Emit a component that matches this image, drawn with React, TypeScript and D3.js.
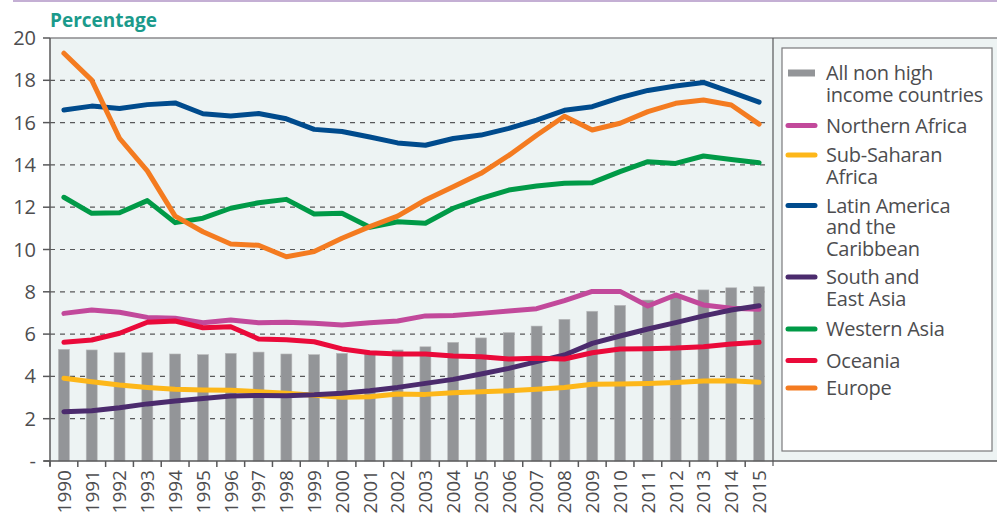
import React, { useEffect, useRef } from 'react';
import * as d3 from 'd3';

const years = [
  '1990', '1991', '1992', '1993', '1994', '1995', '1996', '1997', '1998', '1999',
  '2000', '2001', '2002', '2003', '2004', '2005', '2006', '2007', '2008', '2009',
  '2010', '2011', '2012', '2013', '2014', '2015',
];

// bars: all non high income countries
const allNonHigh = [
  5.28, 5.25, 5.12, 5.12, 5.06, 5.03, 5.09, 5.15, 5.06, 5.03,
  5.09, 5.12, 5.25, 5.4, 5.61, 5.82, 6.07, 6.38, 6.7, 7.08,
  7.36, 7.61, 7.85, 8.09, 8.19, 8.24,
];

const northernAfrica = [
  6.98, 7.14, 7.03, 6.79, 6.75, 6.54, 6.67, 6.54, 6.56, 6.51,
  6.43, 6.54, 6.62, 6.86, 6.88, 6.98, 7.09, 7.2, 7.58, 8.02,
  8.02, 7.33, 7.85, 7.38, 7.22, 7.17,
];

const subSaharan = [
  3.91, 3.75, 3.59, 3.48, 3.39, 3.36, 3.35, 3.28, 3.2, 3.11,
  3.01, 3.04, 3.17, 3.15, 3.23, 3.28, 3.32, 3.39, 3.48, 3.63,
  3.64, 3.67, 3.71, 3.78, 3.8, 3.72,
];

const latinAmerica = [
  16.6, 16.78, 16.67, 16.85, 16.93, 16.42, 16.31, 16.43, 16.18, 15.68,
  15.58, 15.32, 15.04, 14.93, 15.25, 15.41, 15.73, 16.12, 16.58, 16.75,
  17.18, 17.52, 17.73, 17.9, 17.44, 16.97,
];

const southEastAsia = [
  2.33, 2.38, 2.52, 2.7, 2.84, 2.96, 3.07, 3.1, 3.09, 3.13,
  3.2, 3.32, 3.48, 3.67, 3.86, 4.11, 4.38, 4.7, 5.01, 5.56,
  5.91, 6.24, 6.54, 6.86, 7.14, 7.34,
];

const westernAsia = [
  12.47, 11.71, 11.74, 12.31, 11.27, 11.48, 11.95, 12.21, 12.37, 11.68,
  11.71, 11.05, 11.31, 11.24, 11.95, 12.42, 12.81, 13.0, 13.13, 13.16,
  13.68, 14.15, 14.07, 14.42, 14.26, 14.1,
];

const oceania = [
  5.61, 5.72, 6.04, 6.56, 6.62, 6.3, 6.35, 5.77, 5.73, 5.64,
  5.3, 5.12, 5.06, 5.06, 4.96, 4.93, 4.82, 4.86, 4.82, 5.12,
  5.3, 5.31, 5.34, 5.4, 5.53, 5.61,
];

const europe = [
  19.28, 18.01, 15.26, 13.72, 11.58, 10.84, 10.26, 10.2, 9.66, 9.9,
  10.53, 11.08, 11.58, 12.34, 12.97, 13.6, 14.45, 15.4, 16.3, 15.65,
  15.97, 16.52, 16.91, 17.07, 16.83, 15.93,
];

const yTicks = [0, 2, 4, 6, 8, 10, 12, 14, 16, 18, 20];

const lineSeries = [
  { name: ['Northern Africa'], values: northernAfrica, color: '#c2499b' },
  { name: ['Sub-Saharan', 'Africa'], values: subSaharan, color: '#fdb71a' },
  { name: ['Latin America', 'and the', 'Caribbean'], values: latinAmerica, color: '#004b8d' },
  { name: ['South and', 'East Asia'], values: southEastAsia, color: '#4b2b6d' },
  { name: ['Western Asia'], values: westernAsia, color: '#009a47' },
  { name: ['Oceania'], values: oceania, color: '#ea0a3a' },
  { name: ['Europe'], values: europe, color: '#f47b20' },
];

const W = 997;
const H = 515;
const FONT = '"Open Sans", "Noto Sans", sans-serif';
const TEXT = '#4d4d4f';

const App = () => {
  const ref = useRef<SVGSVGElement | null>(null);

  useEffect(() => {
    if (!ref.current) return;
    const svg = d3.select(ref.current);
    svg.selectAll('*').remove();

    const left = 50;
    const right = 773;
    const top = 38;
    const bottom = 461;

    const x = d3.scaleBand().domain(years).range([left, right]);
    const y = d3.scaleLinear().domain([0, 20]).range([bottom, top]);

    // top purple rule
    svg.append('line')
      .attr('x1', 13).attr('x2', W).attr('y1', 1).attr('y2', 1)
      .attr('stroke', '#c4afd4').attr('stroke-width', 2);

    svg.append('text')
      .attr('x', 50).attr('y', 27)
      .attr('fill', '#1b9a8b')
      .attr('font-size', 19).attr('font-weight', 700)
      .attr('font-family', FONT)
      .text('Percentage');

    // background panel
    svg.append('rect')
      .attr('x', left).attr('y', top)
      .attr('width', W - left).attr('height', bottom - top)
      .attr('fill', '#edf3f3');

    svg.append('line')
      .attr('x1', left).attr('x2', W).attr('y1', top).attr('y2', top)
      .attr('stroke', '#8a8a8c').attr('stroke-width', 1.5);

    // gridlines
    svg.append('g')
      .selectAll('line')
      .data(yTicks.filter(t => t > 0 && t < 20))
      .join('line')
      .attr('x1', left).attr('x2', right - 4)
      .attr('y1', d => y(d)).attr('y2', d => y(d))
      .attr('stroke', '#58585a').attr('stroke-width', 1.2)
      .attr('stroke-dasharray', '5,5');

    // bars
    const barW = 11;
    svg.append('g')
      .selectAll('rect')
      .data(allNonHigh)
      .join('rect')
      .attr('x', (d, i) => x(years[i])! + x.bandwidth() / 2 - barW / 2)
      .attr('y', d => y(d))
      .attr('width', barW)
      .attr('height', d => bottom - y(d))
      .attr('fill', '#939598')
      .attr('stroke', '#b9babc')
      .attr('stroke-width', 0.6);

    // lines
    const line = d3.line<number>()
      .x((d, i) => x(years[i])! + x.bandwidth() / 2)
      .y(d => y(d));

    svg.append('g')
      .selectAll('path')
      .data(lineSeries)
      .join('path')
      .attr('d', d => line(d.values))
      .attr('fill', 'none')
      .attr('stroke', d => d.color)
      .attr('stroke-width', 5)
      .attr('stroke-linecap', 'round')
      .attr('stroke-linejoin', 'round');

    // axes
    svg.append('line')
      .attr('x1', left).attr('x2', left).attr('y1', top).attr('y2', bottom + 5)
      .attr('stroke', '#58585a').attr('stroke-width', 1.5);
    svg.append('line')
      .attr('x1', right).attr('x2', right).attr('y1', top).attr('y2', bottom + 5)
      .attr('stroke', '#58585a').attr('stroke-width', 1.2);
    svg.append('line')
      .attr('x1', left - 6).attr('x2', W).attr('y1', bottom).attr('y2', bottom)
      .attr('stroke', '#58585a').attr('stroke-width', 1.5);

    const yAxis = svg.append('g');
    yAxis.selectAll('line')
      .data(yTicks)
      .join('line')
      .attr('x1', left - 7).attr('x2', left)
      .attr('y1', d => y(d)).attr('y2', d => y(d))
      .attr('stroke', '#58585a').attr('stroke-width', 1.5);
    yAxis.selectAll('text')
      .data(yTicks)
      .join('text')
      .attr('x', 36)
      .attr('y', d => y(d))
      .attr('dy', '0.35em')
      .attr('text-anchor', 'end')
      .attr('font-size', 20)
      .attr('font-family', FONT)
      .attr('fill', TEXT)
      .text(d => (d === 0 ? '-' : String(d)));

    const xAxis = svg.append('g');
    xAxis.selectAll('line')
      .data(years)
      .join('line')
      .attr('x1', d => x(d)!).attr('x2', d => x(d)!)
      .attr('y1', bottom).attr('y2', bottom + 6)
      .attr('stroke', '#58585a').attr('stroke-width', 1.5);
    xAxis.selectAll('text')
      .data(years)
      .join('text')
      .attr('transform', d => `translate(${x(d)! + x.bandwidth() / 2},${bottom + 9}) rotate(-90)`)
      .attr('dy', '0.36em')
      .attr('text-anchor', 'end')
      .attr('font-size', 19)
      .attr('font-family', FONT)
      .attr('fill', TEXT)
      .text(d => d);

    // legend
    const lg = svg.append('g');
    lg.append('rect')
      .attr('x', 782).attr('y', 48)
      .attr('width', 210).attr('height', 403)
      .attr('fill', '#ffffff')
      .attr('stroke', '#7a7a7c').attr('stroke-width', 1.2);

    const lineH = 21.5;
    const entries = [
      { name: ['All non high', 'income countries'], color: '#939598', bar: true, y: 73 },
      ...lineSeries.map((s, i) => ({
        name: s.name, color: s.color, bar: false,
        y: [125.5, 155, 205.5, 277, 329, 360.5, 388][i],
      })),
    ];

    entries.forEach(e => {
      if (e.bar) {
        lg.append('rect')
          .attr('x', 788).attr('y', e.y - 3.5)
          .attr('width', 27).attr('height', 7)
          .attr('fill', e.color);
      } else {
        lg.append('line')
          .attr('x1', 788).attr('x2', 815)
          .attr('y1', e.y).attr('y2', e.y)
          .attr('stroke', e.color).attr('stroke-width', 5)
          .attr('stroke-linecap', 'round');
      }
      const t = lg.append('text')
        .attr('x', 826).attr('y', e.y)
        .attr('font-size', 20)
        .attr('letter-spacing', -0.25)
        .attr('font-family', FONT)
        .attr('fill', TEXT);
      e.name.forEach((n, k) => {
        t.append('tspan')
          .attr('x', 826)
          .attr('y', e.y + k * lineH)
          .attr('dy', '0.35em')
          .text(n);
      });
    });
  }, []);

  return (
    <svg
      ref={ref}
      width={W}
      height={H}
      style={{ position: 'absolute', left: 0, top: 0, background: '#fff' }}
    />
  );
};

export default App;
